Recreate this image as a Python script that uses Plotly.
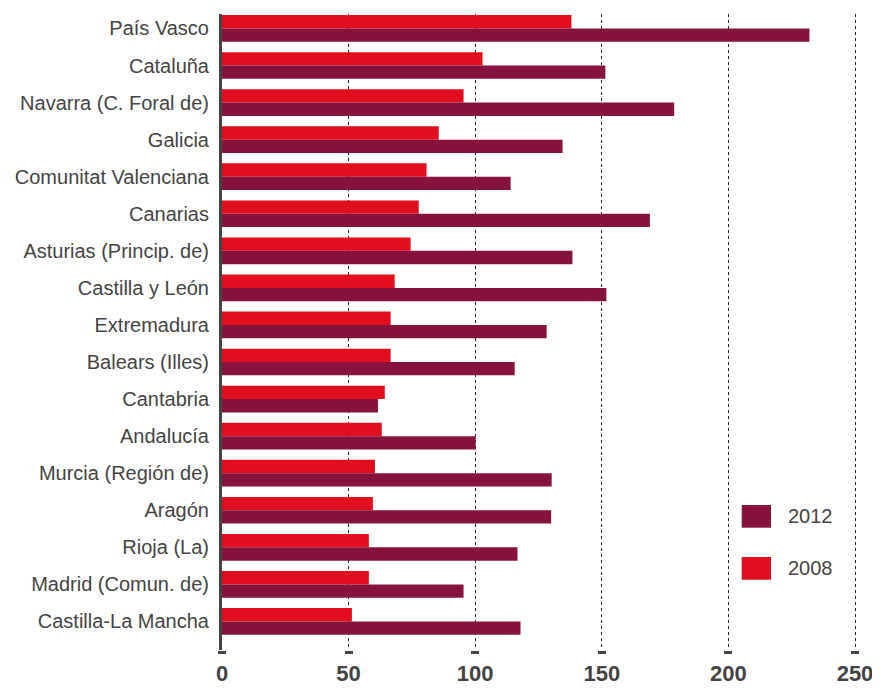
import plotly.graph_objects as go

regions = [
    "País Vasco", "Cataluña", "Navarra (C. Foral de)", "Galicia",
    "Comunitat Valenciana", "Canarias", "Asturias (Princip. de)",
    "Castilla y León", "Extremadura", "Balears (Illes)", "Cantabria",
    "Andalucía", "Murcia (Región de)", "Aragón", "Rioja (La)",
    "Madrid (Comun. de)", "Castilla-La Mancha",
]
values_2008 = [138.0, 102.9, 95.4, 85.6, 80.8, 77.7, 74.5, 68.2, 66.6, 66.6,
               64.3, 63.1, 60.4, 59.6, 58.0, 58.0, 51.3]
values_2012 = [232.0, 151.4, 178.6, 134.5, 114.0, 169.0, 138.4, 151.8, 128.2,
               115.6, 61.6, 100.2, 130.2, 130.0, 116.7, 95.4, 117.9]
x_ticks = [0, 50, 100, 150, 200, 250]
series_names = ["2008", "2012"]

RED = "#E10E1E"
MAROON = "#85133D"
TXT = "#444444"
FONT = "Liberation Sans, Arial, Helvetica, sans-serif"

fig = go.Figure()
fig.add_trace(go.Bar(y=regions, x=values_2008, orientation="h", name=series_names[0],
                     marker=dict(color=RED, line=dict(width=0))))
fig.add_trace(go.Bar(y=regions, x=values_2012, orientation="h", name=series_names[1],
                     marker=dict(color=MAROON, line=dict(width=0))))

# page body has an 8px margin, so the figure is drawn 8px in from the top-left
fig.update_layout(
    width=872, height=680,
    margin=dict(l=214, r=20, t=6, b=38, autoexpand=False),
    paper_bgcolor="white", plot_bgcolor="white",
    barmode="group", bargap=0.28, bargroupgap=0,
    showlegend=False,
    font=dict(family=FONT, color=TXT),
)
fig.update_xaxes(
    automargin=False,
    range=[0, 251.97], tickvals=x_ticks, ticktext=[str(v) for v in x_ticks],
    showgrid=True, griddash="dot", gridcolor="#222222", gridwidth=1,
    zeroline=False, showline=False,
    ticks="outside", ticklen=3, tickwidth=8, tickcolor=TXT,
    ticklabelstandoff=1,
    tickfont=dict(family=FONT, size=22, color=TXT, weight="bold"),
)
fig.update_yaxes(
    automargin=False,
    type="category", range=[16.77, -0.39],
    showgrid=False, zeroline=False,
    showline=True, linecolor=TXT, linewidth=3,
    ticks="", ticklabelstandoff=6,
    tickfont=dict(family=FONT, size=20, color=TXT),
)

# custom legend (squares + labels)
legend_items = [(series_names[1], MAROON, 0.228, 0.1923), (series_names[0], RED, 0.1462, 0.1105)]
for name, col, y1, y0 in legend_items:
    fig.add_shape(type="rect", xref="paper", yref="paper",
                  x0=0.8146, x1=0.8605, y0=y0, y1=y1,
                  fillcolor=col, line=dict(width=0))
    fig.add_annotation(xref="paper", yref="paper", x=0.8840, y=(y0 + y1) / 2,
                       text=name, showarrow=False, xanchor="left", yanchor="middle",
                       font=dict(family=FONT, size=20, color=TXT))

fig.write_html("out.html")
